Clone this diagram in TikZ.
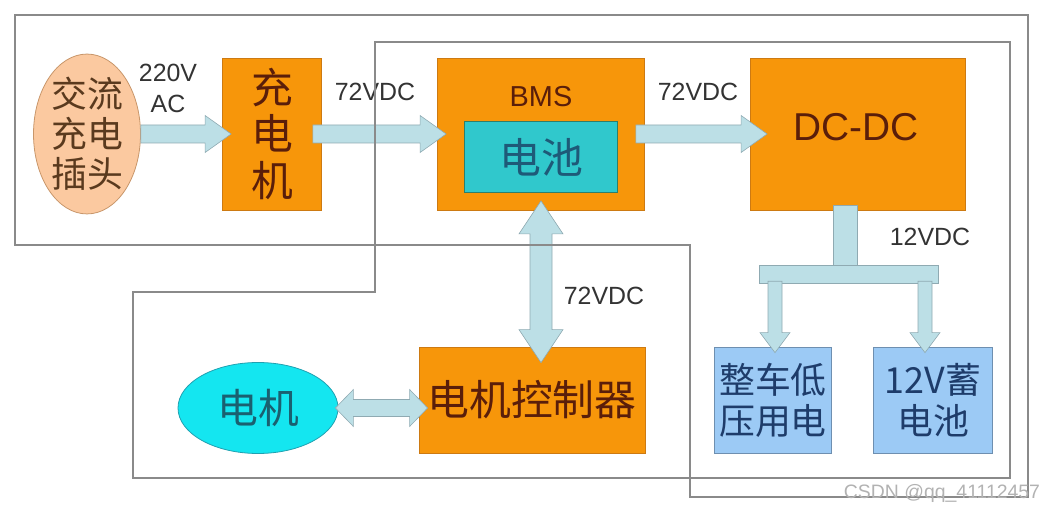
\documentclass[tikz,border=0pt]{standalone}
\usepackage{fontspec}
\setmainfont{Liberation Sans}
\newfontfamily\cjk{Noto Sans CJK SC}
\usetikzlibrary{calc,shapes.geometric}
\definecolor{boxorange}{HTML}{F7960A}
\definecolor{boxedge}{HTML}{CD7A12}
\definecolor{boxtext}{HTML}{5A1E0A}
\definecolor{arrowfill}{HTML}{BCDFE6}
\definecolor{arrowedge}{HTML}{8FAAB2}
\definecolor{plugfill}{HTML}{FBC9A0}
\definecolor{plugedge}{HTML}{C8966A}
\definecolor{plugtext}{HTML}{5A3A1E}
\definecolor{cellfill}{HTML}{30C8CC}
\definecolor{celledge}{HTML}{2F7F6A}
\definecolor{celltext}{HTML}{1E5A78}
\definecolor{motorfill}{HTML}{14E6F0}
\definecolor{motoredge}{HTML}{20A0B0}
\definecolor{motortext}{HTML}{1A6070}
\definecolor{loadfill}{HTML}{9CCAF5}
\definecolor{loadedge}{HTML}{6E8FB0}
\definecolor{loadtext}{HTML}{1E3C6A}
\definecolor{framegray}{HTML}{8A8A8A}
\definecolor{labeltext}{HTML}{333333}
\tikzset{
  fat sw/.store in=\fatsw, fat hw/.store in=\fathw, fat hl/.store in=\fathl,
  fat sw=9bp, fat hw=18.5bp, fat hl=26bp,
  fatbase/.style={draw=arrowedge, fill=arrowfill, line width=0.6pt},
  fatarrow/.style={fatbase, to path={
    let \p1=(\tikztostart), \p2=(\tikztotarget),
        \n1={atan2(\y2-\y1,\x2-\x1)}, \n2={veclen(\x2-\x1,\y2-\y1)-\fathl} in
    -- ($(\p1)+(\n1+90:\fatsw)$)
    -- ($(\p1)+(\n1+90:\fatsw)+(\n1:\n2)$)
    -- ($(\p1)+(\n1+90:\fathw)+(\n1:\n2)$)
    -- (\p2)
    -- ($(\p1)+(\n1-90:\fathw)+(\n1:\n2)$)
    -- ($(\p1)+(\n1-90:\fatsw)+(\n1:\n2)$)
    -- ($(\p1)+(\n1-90:\fatsw)$) -- cycle}},
  fatdouble/.style={fatbase, to path={
    let \p1=(\tikztostart), \p2=(\tikztotarget),
        \n1={atan2(\y2-\y1,\x2-\x1)} in
    -- ($(\p1)+(\n1:\fathl)+(\n1+90:\fathw)$)
    -- ($(\p1)+(\n1:\fathl)+(\n1+90:\fatsw)$)
    -- ($(\p2)+(\n1+180:\fathl)+(\n1+90:\fatsw)$)
    -- ($(\p2)+(\n1+180:\fathl)+(\n1+90:\fathw)$)
    -- (\p2)
    -- ($(\p2)+(\n1+180:\fathl)+(\n1-90:\fathw)$)
    -- ($(\p2)+(\n1+180:\fathl)+(\n1-90:\fatsw)$)
    -- ($(\p1)+(\n1:\fathl)+(\n1-90:\fatsw)$)
    -- ($(\p1)+(\n1:\fathl)+(\n1-90:\fathw)$) -- cycle}},
  box/.style={draw=boxedge, fill=boxorange, line width=0.8pt, text=boxtext, inner sep=0pt},
  loadbox/.style={draw=loadedge, fill=loadfill, line width=0.8pt, text=loadtext, inner sep=0pt,
    minimum height=106bp, align=center, font=\cjk\fontsize{36}{41}\selectfont},
  lbl/.style={text=labeltext, inner sep=0pt, align=center, font=\fontsize{25}{31}\selectfont},
  framing/.style={draw=framegray, line width=1.2bp}
}
\begin{document}
\begin{tikzpicture}[x=1bp,y=-1bp]
  \useasboundingbox (0,0) rectangle (1046,512);
  \node[ellipse, draw=plugedge, fill=plugfill, line width=0.8pt, minimum width=107bp, minimum height=155bp,
    inner sep=0pt, text=plugtext, align=center, font=\cjk\fontsize{36}{40}\selectfont] at (87,134) (plug) {交流\\充电\\插头};
  \node[box, minimum width=99bp, minimum height=152bp, align=center,
    font=\cjk\fontsize{42}{47}\selectfont] at (272,134) (charger) {充\\电\\机};
  \node[box, minimum width=207bp, minimum height=152bp] at (541,134) (bms) {};
  \node[text=boxtext, font=\fontsize{29}{30}\selectfont] at (541,97) (bmsname) {BMS};
  \node[draw=celledge, fill=cellfill, line width=0.8pt, minimum width=153bp, minimum height=71bp, inner sep=0pt,
    text=celltext, font=\cjk\fontsize{42}{42}\selectfont] at (541,157) (cell) {电池};
  \node[box, minimum width=215bp, minimum height=152bp] at (858,134) (dcdc) {};
  \node[text=boxtext, font=\fontsize{39}{40}\selectfont] at (856,127) (dcdcname) {DC-DC};
  \node[box, minimum width=226bp, minimum height=106bp,
    font=\cjk\fontsize{42}{42}\selectfont] at (532,400) (mcu) {电机控制器};
  \node[ellipse, draw=motoredge, fill=motorfill, line width=0.8pt, minimum width=160bp, minimum height=91bp,
    inner sep=0pt, text=motortext, font=\cjk\fontsize{41}{41}\selectfont] at (258,408) (motor) {电机};
  \node[loadbox, minimum width=117bp] at (773,400) (lvload) {整车低\\压用电};
  \node[loadbox, minimum width=119bp] at (933,400) (batt) {12V蓄\\电池};
  \node[fatbase, minimum width=24bp, minimum height=62bp, inner sep=0pt] at (845,236) (stem) {};
  \node[fatbase, minimum width=179bp, minimum height=18bp, inner sep=0pt] at (849,274) (bar) {};
  \node[lbl] at (168,88) (acv) {220V\\AC};
  \node[lbl] at (375,92) (chgv) {72VDC};
  \node[lbl] at (698,92) (dcv) {72VDC};
  \node[lbl] at (930,237) (lowv) {12VDC};
  \node[lbl] at (604,296) (mcuv) {72VDC};
  \draw[fatarrow] (plug.east) to ([xshift=9bp]charger.west);
  \draw[fatarrow] ([xshift=-9bp]charger.east) to ([xshift=9bp]bms.west);
  \draw[fatarrow] ([xshift=-9bp]bms.east) to ([xshift=17bp]dcdc.west);
  \draw[fatdouble, fat sw=11bp, fat hw=22bp, fat hl=33bp] ([yshift=-8bp]cell.south) to ($(cell.south |- mcu.north)+(0,16)$);
  \draw[fatdouble, fat sw=8.5bp, fat hw=18.5bp, fat hl=18bp] ([xshift=-3bp]motor.east) to ($(motor.east -| mcu.west)+(9,0)$);
  \draw[fatarrow, fat sw=7bp, fat hw=15bp, fat hl=20bp] ($(bar.south -| lvload.north)+(2,-2)$) to ($(lvload.north)+(2,6)$);
  \draw[fatarrow, fat sw=7bp, fat hw=15bp, fat hl=20bp] ($(bar.south -| batt.north)+(-8,-2)$) to ($(batt.north)+(-8,6)$);
  \draw[framing] (15,15) -- (1028,15) -- (1028,497) -- (690,497) -- (690,245) -- (15,245) -- cycle;
  \draw[framing] (375,42) -- (1010,42) -- (1010,478) -- (133,478) -- (133,292) -- (375,292) -- cycle;
  \node[text=black!30, font=\fontsize{19.5}{20}\selectfont] at (942,493) (mark) {CSDN @qq\_41112457};
\end{tikzpicture}
\end{document}
